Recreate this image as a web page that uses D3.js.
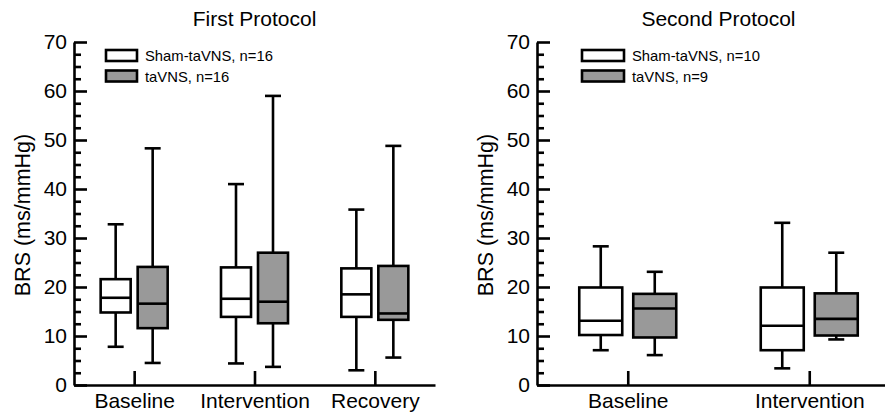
<!DOCTYPE html>
<html>
<head>
<meta charset="utf-8">
<script src="https://cdnjs.cloudflare.com/ajax/libs/d3/7.8.5/d3.min.js"></script>
<style>
  body { margin: 0; background: #fff; }
  svg text { font-family: "Liberation Sans", Arial, Helvetica, sans-serif; fill: #000; }
</style>
</head>
<body>
<div id="chartDiv"></div>
<script>
// box stats are [min, q1, median, q3, max]
var groups = ["Sham-taVNS", "taVNS"];
var colors = {"Sham-taVNS": "#ffffff", "taVNS": "#999999"};

var categories_first = ["Baseline", "Intervention", "Recovery"];
var first_sham  = [[7.8, 14.8, 17.8, 21.6, 32.8], [4.4, 13.9, 17.6, 24.0, 41.0], [3.0, 13.9, 18.5, 23.8, 35.8]];
var first_tavns = [[4.5, 11.6, 16.6, 24.1, 48.3], [3.7, 12.6, 17.0, 27.0, 59.0], [5.6, 13.3, 14.6, 24.3, 48.8]];
var legend_first = ["Sham-taVNS, n=16", "taVNS, n=16"];

var categories_second = ["Baseline", "Intervention"];
var second_sham  = [[7.1, 10.2, 13.1, 19.9, 28.3], [3.4, 7.1, 12.1, 19.9, 33.1]];
var second_tavns = [[6.1, 9.7, 15.6, 18.6, 23.1], [9.3, 10.1, 13.5, 18.7, 27.0]];
var legend_second = ["Sham-taVNS, n=10", "taVNS, n=9"];

var y_ticks = [0, 10, 20, 30, 40, 50, 60, 70];
var y_minor = d3.range(0, 70.1, 2.5).filter(function(v){ return v % 10 !== 0; });

var svg = d3.select("#chartDiv").append("svg")
    .attr("width", 885)
    .attr("height", 414);

var top_y = 42, bottom_y = 385;
var line_w = 2.6;

function drawPanel(opt) {
  var g = svg.append("g");

  var y_scale = d3.scaleLinear().domain([0, 70]).range([bottom_y, top_y]);
  var x_scale = d3.scalePoint().domain(opt.categories).range([opt.x0, opt.x1]).padding(0.5);
  var half = opt.boxW + opt.gap / 2;
  var sub = d3.scaleBand().domain(groups).range([-half, half]).paddingInner(opt.gap / (opt.boxW + opt.gap));
  var bw = sub.bandwidth();

  // title
  g.append("text")
    .text(opt.title)
    .attr("x", (opt.x0 + opt.x1) / 2)
    .attr("y", 26)
    .attr("text-anchor", "middle")
    .style("font-size", "21px");

  // y axis label
  g.append("text")
    .text("BRS (ms/mmHg)")
    .attr("text-anchor", "middle")
    .attr("transform", "translate(" + (opt.x0 - 44) + "," + 215 + ") rotate(-90)")
    .style("font-size", "21.5px");

  // minor y ticks
  var minorAxis = g.append("g")
    .attr("transform", "translate(" + opt.x0 + ",0)")
    .call(d3.axisLeft(y_scale).tickValues(y_minor).tickSizeInner(-7).tickSizeOuter(0).tickFormat(""));
  minorAxis.select(".domain").remove();
  minorAxis.selectAll("line").attr("stroke-width", line_w);

  // major y axis
  var yAxis = g.append("g")
    .attr("transform", "translate(" + opt.x0 + ",0)")
    .call(d3.axisLeft(y_scale).tickValues(y_ticks).tickSizeInner(-13).tickSizeOuter(0).tickPadding(7));
  yAxis.selectAll("line, path").attr("stroke-width", line_w);
  yAxis.selectAll("text").style("font-size", "21px").attr("font-family", null);

  // x axis
  var xAxis = g.append("g")
    .attr("transform", "translate(0," + bottom_y + ")")
    .call(d3.axisBottom(x_scale).tickSizeInner(-14).tickSizeOuter(0).tickPadding(8));
  xAxis.selectAll("line, path").attr("stroke-width", line_w);
  xAxis.selectAll("text").style("font-size", "21px").attr("font-family", null);

  // boxes
  var series = [{name: groups[0], stats: opt.sham}, {name: groups[1], stats: opt.tavns}];
  series.forEach(function(s) {
    var items = s.stats.map(function(d, i){ return {cat: opt.categories[i], st: d}; });
    var bg = g.append("g").selectAll("g.box").data(items).enter().append("g").attr("class", "box");
    var cx = function(d){ return x_scale(d.cat) + sub(s.name) + bw / 2; };

    // whiskers
    bg.append("line")
      .attr("x1", cx).attr("x2", cx)
      .attr("y1", function(d){ return y_scale(d.st[3]); })
      .attr("y2", function(d){ return y_scale(d.st[4]); });
    bg.append("line")
      .attr("x1", cx).attr("x2", cx)
      .attr("y1", function(d){ return y_scale(d.st[1]); })
      .attr("y2", function(d){ return y_scale(d.st[0]); });
    // caps
    [0, 4].forEach(function(k) {
      bg.append("line")
        .attr("x1", function(d){ return cx(d) - 8; })
        .attr("x2", function(d){ return cx(d) + 8; })
        .attr("y1", function(d){ return y_scale(d.st[k]); })
        .attr("y2", function(d){ return y_scale(d.st[k]); });
    });
    bg.append("rect")
      .attr("x", function(d){ return cx(d) - bw / 2; })
      .attr("y", function(d){ return y_scale(d.st[3]); })
      .attr("width", bw)
      .attr("height", function(d){ return y_scale(d.st[1]) - y_scale(d.st[3]); })
      .attr("fill", colors[s.name]);
    bg.append("line")
      .attr("x1", function(d){ return cx(d) - bw / 2; })
      .attr("x2", function(d){ return cx(d) + bw / 2; })
      .attr("y1", function(d){ return y_scale(d.st[2]); })
      .attr("y2", function(d){ return y_scale(d.st[2]); });
    bg.selectAll("line, rect").attr("stroke", "#000").attr("stroke-width", line_w);
  });

  // legend
  var lg = g.append("g").attr("transform", "translate(" + (opt.x0 + opt.legendDx) + ",0)");
  groups.forEach(function(name, i) {
    lg.append("rect")
      .attr("x", 0)
      .attr("y", 50 + i * 20.5)
      .attr("width", opt.legendW)
      .attr("height", 11)
      .attr("fill", colors[name])
      .attr("stroke", "#000")
      .attr("stroke-width", line_w);
    lg.append("text")
      .text(opt.legend[i])
      .attr("x", opt.legendW + 8)
      .attr("y", 61 + i * 20.5)
      .style("font-size", "14.8px");
  });
}

drawPanel({title: "First Protocol", categories: categories_first, sham: first_sham, tavns: first_tavns,
           legend: legend_first, x0: 74, x1: 435, boxW: 30, gap: 7, legendDx: 32, legendW: 31});
drawPanel({title: "Second Protocol", categories: categories_second, sham: second_sham, tavns: second_tavns,
           legend: legend_second, x0: 537, x1: 900, boxW: 43, gap: 11, legendDx: 45, legendW: 42});
</script>
</body>
</html>
